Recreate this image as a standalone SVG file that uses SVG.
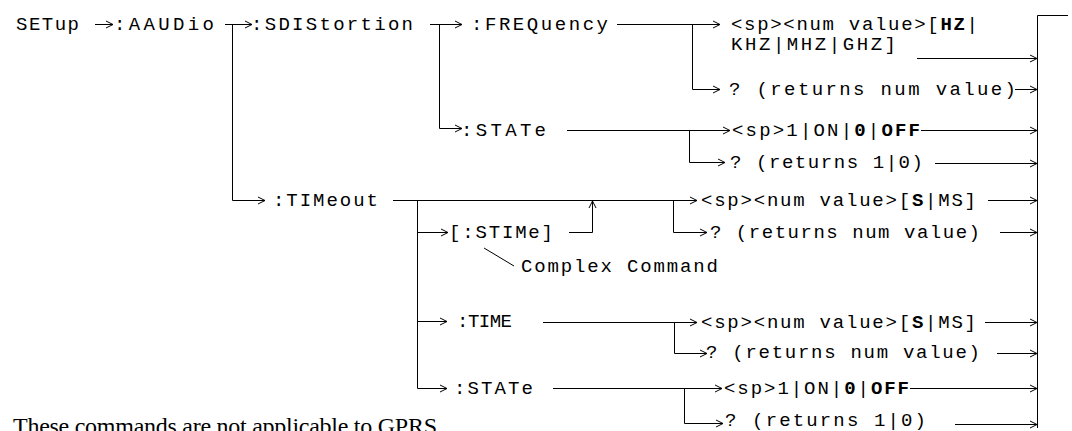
<svg xmlns="http://www.w3.org/2000/svg" width="1072" height="431" viewBox="0 0 1072 431">
<style>
.m{font-family:"Liberation Mono","Courier New",monospace;font-size:19px;fill:#000}
.b{font-weight:bold}
.s{font-family:"Liberation Serif","Times New Roman",serif;font-size:24px;fill:#000}
.c{fill:none;stroke:#000;stroke-width:1}
.a{marker-end:url(#ah)}
</style>
<defs>
<marker id="ah" viewBox="-9 -5 10 10" refX="0" refY="0" markerWidth="10" markerHeight="10" markerUnits="userSpaceOnUse" orient="auto">
<path d="M-7,-3.5 L0,0 L-7,3.5" fill="none" stroke="#000" stroke-width="1"/>
</marker>
</defs>
<rect width="1072" height="431" fill="#fff"/>
<g id="connectors">
<path class="c a" d="M95,24.5 H113"/>
<path class="c a" d="M225,24.5 H252"/>
<path class="c a" d="M232.5,24 V200.5 H265"/>
<path class="c a" d="M430,24.5 H462"/>
<path class="c a" d="M439.5,24.5 V128.5 H462"/>
<path class="c a" d="M617,24.5 H720"/>
<path class="c a" d="M692.5,24.5 V89.5 H720"/>
<path class="c a" d="M917,58.5 H1037"/>
<path class="c a" d="M1015,89.5 H1037"/>
<path class="c a" d="M567,130.5 H730"/>
<path class="c a" d="M689.5,130.5 V162.5 H725"/>
<path class="c a" d="M921,130.5 H1037"/>
<path class="c a" d="M935,163.5 H1037"/>
<path class="c a" d="M393,200.5 H697"/>
<path class="c a" d="M673.5,200.5 V232.5 H707"/>
<path class="c a" d="M988,200.5 H1037"/>
<path class="c a" d="M1000,232.5 H1037"/>
<path class="c a" d="M417.5,200 V388.5 H447"/>
<path class="c a" d="M417.5,232.5 H448"/>
<path class="c a" d="M417.5,321.5 H447"/>
<path class="c a" d="M569,232.5 H592.5 V201"/>
<path class="c" d="M484,248 L514,266"/>
<path class="c a" d="M543,322.5 H697"/>
<path class="c a" d="M674.5,322.5 V353.5 H707"/>
<path class="c a" d="M985,322.5 H1037"/>
<path class="c a" d="M997,353.5 H1037"/>
<path class="c a" d="M553,388.5 H722"/>
<path class="c a" d="M684.5,388.5 V423.5 H723"/>
<path class="c a" d="M910,388.5 H1037"/>
<path class="c a" d="M955,424.5 H1037"/>
<path class="c" d="M1068,15.5 H1037.5 V428"/>
</g>
<g id="n-setup"><text class="m" x="16" y="30" textLength="63" lengthAdjust="spacing">SETup</text></g>
<g id="n-aaudio"><text class="m" x="114" y="30" textLength="100" lengthAdjust="spacing">:AAUDio</text></g>
<g id="n-sdistortion"><text class="m" x="251" y="30" textLength="162" lengthAdjust="spacing">:SDIStortion</text></g>
<g id="n-frequency"><text class="m" x="471" y="30" textLength="137" lengthAdjust="spacing">:FREQuency</text></g>
<g id="n-freq-value"><text class="m" x="731" y="30" textLength="247" lengthAdjust="spacing">&lt;sp&gt;&lt;num value&gt;[<tspan class="b">HZ</tspan>|</text><text class="m" x="731" y="50" textLength="165" lengthAdjust="spacing">KHZ|MHZ|GHZ]</text></g>
<g id="n-freq-query"><text class="m" x="729" y="95" textLength="287" lengthAdjust="spacing">? (returns num value)</text></g>
<g id="n-sdist-state"><text class="m" x="461" y="136" textLength="85" lengthAdjust="spacing">:STATe</text></g>
<g id="n-sdist-state-value"><text class="m" x="732" y="136" textLength="188" lengthAdjust="spacing">&lt;sp&gt;1|ON|<tspan class="b">0</tspan>|<tspan class="b">OFF</tspan></text></g>
<g id="n-sdist-state-query"><text class="m" x="730" y="168" textLength="193" lengthAdjust="spacing">? (returns 1|0)</text></g>
<g id="n-timeout"><text class="m" x="273" y="206" textLength="105" lengthAdjust="spacing">:TIMeout</text></g>
<g id="n-stime-value"><text class="m" x="701" y="206" textLength="275" lengthAdjust="spacing">&lt;sp&gt;&lt;num value&gt;[<tspan class="b">S</tspan>|MS]</text></g>
<g id="n-stime-query"><text class="m" x="710" y="238" textLength="270" lengthAdjust="spacing">? (returns num value)</text></g>
<g id="n-stime"><text class="m" x="449" y="238" textLength="104" lengthAdjust="spacing">[:STIMe]</text></g>
<g id="n-complex"><text class="m" x="521" y="272" textLength="197" lengthAdjust="spacing">Complex Command</text></g>
<g id="n-time"><text class="m" x="457" y="327" textLength="55" lengthAdjust="spacing">:TIME</text></g>
<g id="n-time-value"><text class="m" x="701" y="328" textLength="275" lengthAdjust="spacing">&lt;sp&gt;&lt;num value&gt;[<tspan class="b">S</tspan>|MS]</text></g>
<g id="n-time-query"><text class="m" x="706" y="358" textLength="274" lengthAdjust="spacing">? (returns num value)</text></g>
<g id="n-to-state"><text class="m" x="454" y="394" textLength="79" lengthAdjust="spacing">:STATe</text></g>
<g id="n-to-state-value"><text class="m" x="724" y="394" textLength="185" lengthAdjust="spacing">&lt;sp&gt;1|ON|<tspan class="b">0</tspan>|<tspan class="b">OFF</tspan></text></g>
<g id="n-to-state-query"><text class="m" x="725" y="426" textLength="201" lengthAdjust="spacing">? (returns 1|0)</text></g>
<g id="n-note"><text class="s" x="13" y="434" textLength="424" lengthAdjust="spacing">These commands are not applicable to GPRS</text></g>
</svg>
